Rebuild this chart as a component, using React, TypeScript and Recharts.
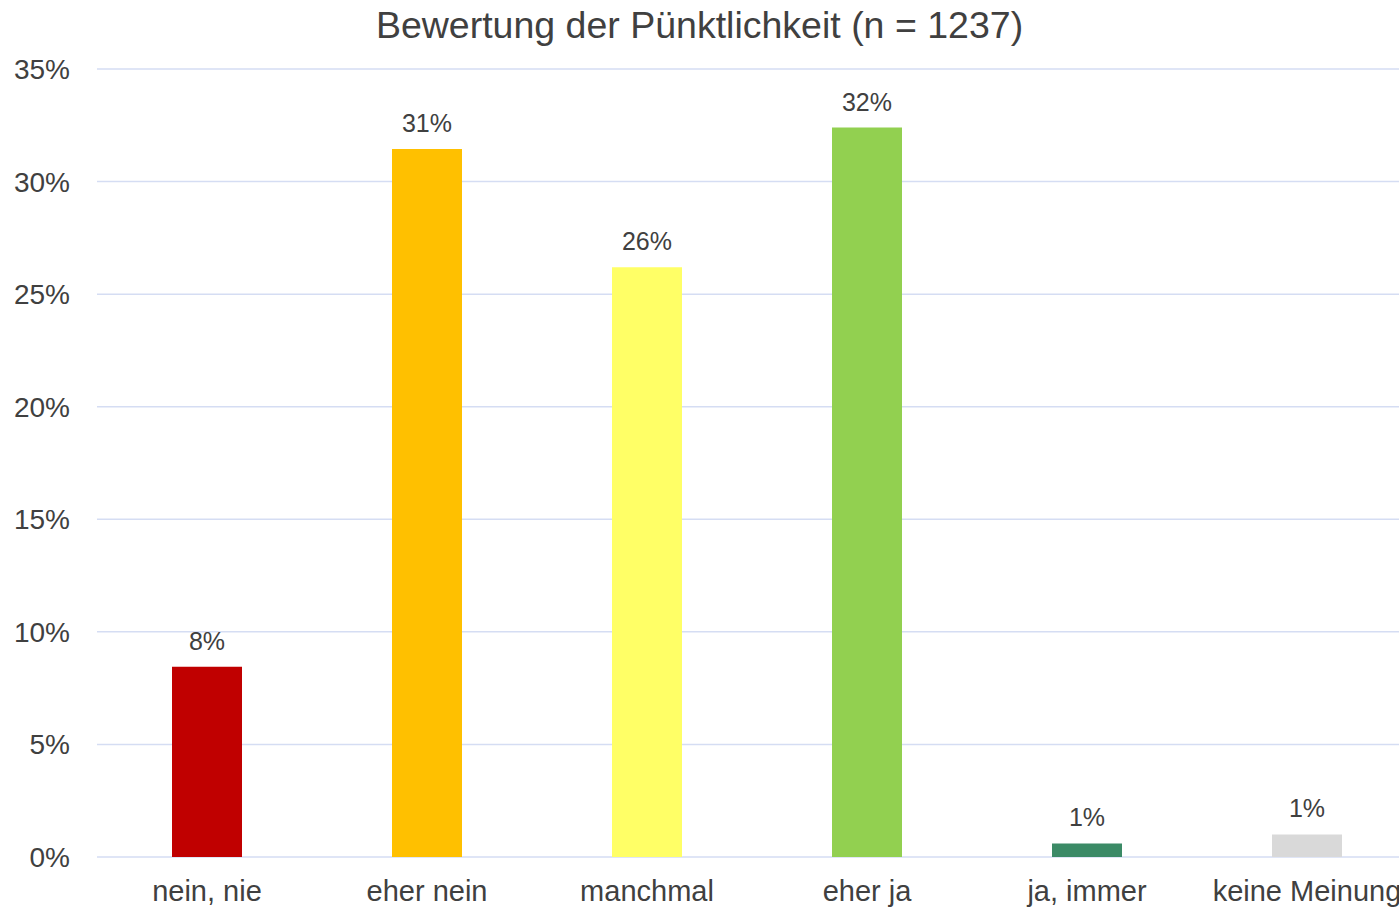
import React from "react";
import { BarChart, Bar, XAxis, YAxis, CartesianGrid, Cell, LabelList } from "recharts";

// Antworten auf die Frage zur Pünktlichkeit (Anteile in %)
const categories = ["nein, nie", "eher nein", "manchmal", "eher ja", "ja, immer", "keine Meinung"];
const shares = [8.45, 31.45, 26.2, 32.4, 0.6, 1.0];
const barColors = ["#C00000", "#FFC000", "#FFFF66", "#92D050", "#3B8A66", "#D9D9D9"];
const yTicks = [0, 5, 10, 15, 20, 25, 30, 35];

const chartData = categories.map((name, i) => ({ name, value: shares[i] }));

const font = "'Liberation Sans', Arial, sans-serif";
const textColor = "#404040";

export default function App() {
  return (
    <div
      style={{
        position: "absolute",
        left: 0,
        top: 0,
        width: 1399,
        height: 908,
        overflow: "hidden",
        background: "#fff",
        fontFamily: font,
      }}
    >
      <div
        style={{
          position: "absolute",
          top: 7,
          left: 0,
          width: 1399,
          textAlign: "center",
          fontSize: 37.5,
          lineHeight: "37px",
          color: textColor,
        }}
      >
        Bewertung der Pünktlichkeit (n = 1237)
      </div>
      <BarChart
        width={1420}
        height={908}
        data={chartData}
        margin={{ top: 69, right: 3, left: 0, bottom: 0 }}
      >
        <CartesianGrid vertical={false} stroke="#D5DDF3" strokeWidth={1.5} />
        <XAxis
          dataKey="name"
          height={51}
          axisLine={false}
          tickLine={false}
          tickSize={0}
          tickMargin={23}
          interval={0}
          tick={{ fontSize: 29, fill: textColor, fontFamily: font }}
        />
        <YAxis
          width={97}
          domain={[0, 35]}
          ticks={yTicks}
          axisLine={false}
          tickLine={false}
          tickSize={0}
          tickMargin={27}
          tickFormatter={(v: number) => `${v}%`}
          tick={{ fontSize: 28, fill: textColor, fontFamily: font }}
        />
        <Bar dataKey="value" barSize={70} isAnimationActive={false}>
          {chartData.map((d, i) => (
            <Cell key={d.name} fill={barColors[i]} />
          ))}
          <LabelList
            dataKey="value"
            position="top"
            offset={17}
            formatter={(v: any) => `${Math.round(Number(v))}%`}
            style={{ fontSize: 25, fill: textColor, fontFamily: font }}
          />
        </Bar>
      </BarChart>
    </div>
  );
}
